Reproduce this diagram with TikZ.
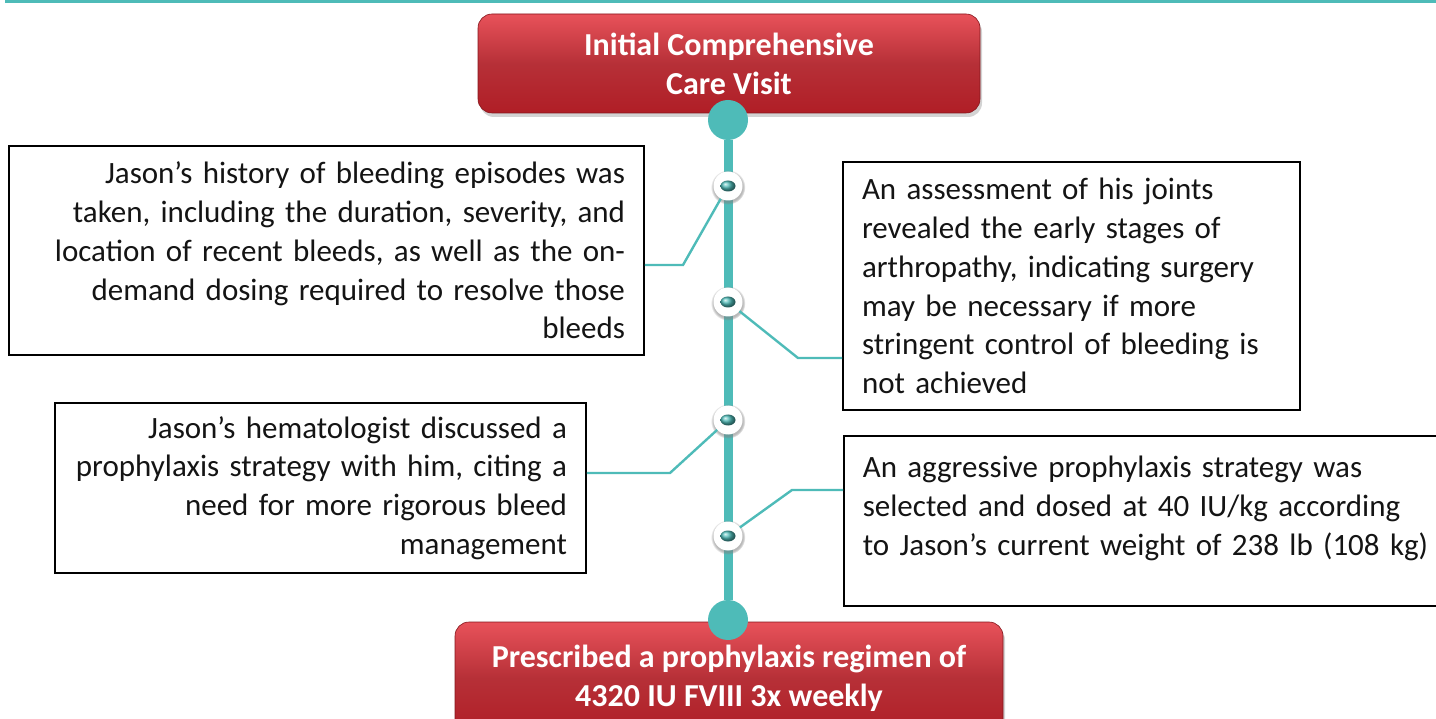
\documentclass[tikz,border=0pt]{standalone}
\usepackage{fontspec}
\setmainfont{Carlito}
\usetikzlibrary{shadows}
\definecolor{lineteal}{RGB}{78,187,184}
\definecolor{visitred}{RGB}{176,30,38}
\definecolor{visitlight}{RGB}{232,82,90}
\begin{document}
\begin{tikzpicture}[
	x=1pt,
	y=-1pt,
	visit/.style={rounded corners=14pt, top color=visitlight, bottom color=visitred, middle color=visitred!92!white, draw=visitred!75!black, line width=0.6pt, text=white, align=center, inner sep=0pt, font=\fontsize{32}{39}\selectfont\bfseries, drop shadow={opacity=0.35, shadow xshift=2pt, shadow yshift=-4pt}},
	event/.style={draw=black, line width=1.6pt, fill=white, inner xsep=19pt, inner ysep=0pt, text=black!92, font=\fontsize{31}{38.8}\selectfont},
	hub/.style={circle, fill=lineteal, minimum size=40pt, inner sep=0pt},
	stopmark/.style={circle, fill=white, minimum size=29pt, inner sep=0pt, circular drop shadow={opacity=0.55, shadow xshift=0pt, shadow yshift=-1pt, shadow scale=1.2}},
	link/.style={lineteal, line width=2.4pt}
	]
	\useasboundingbox (0,0) rectangle (1436,719);
	\draw[lineteal, line width=3.5pt] (5,1) -- (1440,1);

	\node[visit, minimum width=502pt, minimum height=99pt] (visit) at (729,63.5) {Initial Comprehensive\\Care Visit};
	\node[visit, minimum width=548pt, minimum height=112pt] (plan) at (729,678) {Prescribed a prophylaxis regimen of\\4320 IU FVIII 3x weekly};

	\node[hub] (h1) at (728,120) {};
	\node[hub] (h2) at (728,620) {};
	\draw[lineteal, line width=9pt] (h1) -- (h2);

	\node[event, minimum width=635pt, minimum height=209pt, text width=597pt, align=right] (b1) at (326.5,250.5) {%
		Jason’s history of bleeding episodes was\\
		taken, including the duration, severity, and\\
		location of recent bleeds, as well as the on-\\
		demand dosing required to resolve those\\
		bleeds};
	\node[event, minimum width=457pt, minimum height=248pt, text width=419pt, align=left] (b2) at (1071.5,286) {%
		An assessment of his joints\\
		revealed the early stages of\\
		arthropathy, indicating surgery\\
		may be necessary if more\\
		stringent control of bleeding is\\
		not achieved};
	\node[event, minimum width=531pt, minimum height=170pt, text width=493pt, align=right] (b3) at (320.5,488) {%
		Jason’s hematologist discussed a\\
		prophylaxis strategy with him, citing a\\
		need for more rigorous bleed\\
		management};
	\node[event, anchor=west, minimum height=170pt, text width=600pt, align=left] (b4) at (843,521) {%
		An aggressive prophylaxis strategy was\\
		selected and dosed at 40 IU/kg according\\
		to Jason’s current weight of 238 lb (108 kg)\\[-8pt]\mbox{}};

	\node[stopmark] (m1) at (728,186) {};
	\node[stopmark] (m2) at (728,302) {};
	\node[stopmark] (m3) at (728,420) {};
	\node[stopmark] (m4) at (728,536) {};
	\shade[ball color=lineteal] (m1) ellipse (7.5pt and 5.5pt);
	\shade[ball color=lineteal] (m2) ellipse (7.5pt and 5.5pt);
	\shade[ball color=lineteal] (m3) ellipse (7.5pt and 5.5pt);
	\shade[ball color=lineteal] (m4) ellipse (7.5pt and 5.5pt);

	\coordinate (k1) at (683,265);
	\coordinate (k2) at (798,358);
	\coordinate (k3) at (670,473);
	\coordinate (k4) at (792,490);
	\draw[link] (b1.east |- k1) -- (k1) -- (m1);
	\draw[link] (m2) -- (k2) -- (b2.west |- k2);
	\draw[link] (b3.east |- k3) -- (k3) -- (m3);
	\draw[link] (m4) -- (k4) -- (b4.west |- k4);
\end{tikzpicture}
\end{document}
